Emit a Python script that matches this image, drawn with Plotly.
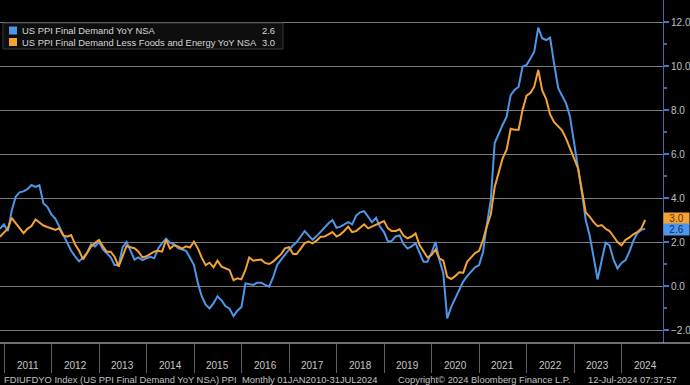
import pandas as pd
import plotly.graph_objects as go

# Monthly readings, Nov 2010 .. Jun 2024 (one row per year)
blue = [
    2.6, 2.8,
    2.5, 3.4, 4.05, 4.26, 4.3, 4.4, 4.59, 4.5, 4.58, 3.75, 3.6, 3.25,
    3.05, 2.7, 2.32, 2.0, 1.6, 1.35, 1.12, 1.3, 1.5, 1.9, 1.8, 2.0,
    1.65, 1.5, 1.3, 0.95, 0.95, 1.75, 2.0, 1.6, 1.2, 1.3, 1.18, 1.26,
    1.33, 1.26, 1.7, 1.95, 2.15, 1.97, 1.9, 1.72, 1.67, 1.6, 1.3, 0.95,
    0.12, -0.45, -0.85, -1.02, -0.78, -0.47, -0.65, -0.92, -1.02, -1.37, -1.12, -0.95,
    0.12, 0.1, 0.05, 0.15, 0.15, 0.05, -0.03, 0.4, 0.95, 1.2, 1.45, 1.65,
    1.85, 2.0, 2.25, 2.5, 2.3, 2.1, 2.27, 2.48, 2.65, 2.85, 3.0, 2.65,
    2.7, 2.8, 2.9, 2.8, 3.2, 3.35, 3.4, 3.15, 2.9, 3.1, 2.7, 2.45,
    2.02, 2.05, 2.25, 2.3, 1.9, 1.7, 1.8, 1.94, 1.48, 1.1, 1.1, 1.5,
    2.0, 1.2, 0.58, -1.47, -0.95, -0.55, -0.22, 0.2, 0.45, 0.65, 0.85, 0.95,
    1.56, 2.77, 3.9, 6.5, 6.94, 7.32, 7.7, 8.68, 8.91, 9.06, 9.97, 10.05,
    10.35, 10.65, 11.74, 11.26, 11.18, 11.29, 10.1, 9.0, 8.65, 8.3, 7.7, 6.6,
    5.5, 4.3, 3.0, 2.3, 1.3, 0.3, 1.15, 1.97, 1.85, 1.2, 0.8, 1.05,
    1.18, 1.55, 2.05, 2.4, 2.55, 2.6,
]
orange = [
    2.24, 2.45,
    2.62, 3.1, 2.85, 2.6, 2.4, 2.6, 2.73, 3.02, 2.88, 2.75, 2.68, 2.6,
    2.55, 2.62, 2.3, 2.24, 2.32, 1.9, 1.6, 1.21, 1.48, 1.8, 1.95, 2.09,
    1.79, 1.56, 1.56, 1.33, 0.88, 1.3, 1.82, 1.76, 1.72, 1.56, 1.3, 1.35,
    1.45, 1.56, 1.6, 1.56, 2.1, 1.7, 1.85, 1.8, 1.7, 1.8, 1.75, 2.02,
    1.7, 1.3, 0.95, 1.06, 0.85, 1.15, 0.88, 0.8, 0.73, 0.27, 0.35, 0.3,
    0.73, 1.3, 1.15, 1.18, 1.2, 1.05, 1.0, 1.11, 1.3, 1.45, 1.71, 1.76,
    1.45, 1.45, 1.7, 1.95, 2.02, 1.94, 2.06, 2.24, 2.25, 2.35, 2.45, 2.25,
    2.35, 2.5, 2.7, 2.45, 2.5, 2.65, 2.8, 2.62, 2.7, 2.78, 2.85, 2.95,
    2.62, 2.5, 2.5, 2.58, 2.28, 2.17, 2.25, 2.39, 1.86, 1.55, 1.3, 1.41,
    1.65, 1.26, 1.15, 0.42, 0.32, 0.45, 0.62, 0.6, 1.1, 1.3, 1.5, 1.6,
    2.1, 2.7, 3.25, 4.5, 5.2, 5.8, 6.2, 7.15, 7.1, 7.1, 8.0, 8.65,
    8.78, 9.06, 9.82, 8.9, 8.5, 7.8, 7.45, 7.24, 7.08, 6.7, 6.25, 5.8,
    5.35, 4.4, 3.35, 3.15, 2.9, 2.72, 2.77, 2.6, 2.5, 2.25, 2.0, 1.85,
    2.1, 2.2, 2.35, 2.45, 2.62, 3.0,
]
dates = pd.date_range("2010-11-30", periods=len(blue), freq="ME")
years = list(range(2011, 2025))
yticks = [-2, 0, 2, 4, 6, 8, 10, 12]
name_blue = "US PPI Final Demand YoY NSA"
name_orange = "US PPI Final Demand Less Foods and Energy YoY NSA"
footer_left = "FDIUFDYO Index (US PPI Final Demand YoY NSA) PPI  Monthly 01JAN2010-31JUL2024"
footer_mid = "Copyright\u00a9 2024 Bloomberg Finance L.P."
footer_right = "12-Jul-2024 07:37:57"

BLUE = "#4d97ea"
ORANGE = "#f4a233"
FONT = "Liberation Sans, Arial, sans-serif"
W, H = 690, 385
ML, MR, MT, MB = 0, 27, 0, 42
PW, PH = W - ML - MR, H - MT - MB

def px(x):
    return (x - ML) / PW

def py(y):
    return (H - MB - y) / PH

fig = go.Figure()
fig.add_trace(go.Scatter(x=dates, y=blue, mode="lines", line=dict(color=BLUE, width=2), name=name_blue))
fig.add_trace(go.Scatter(x=dates, y=orange, mode="lines", line=dict(color=ORANGE, width=2), name=name_orange))

fig.update_layout(
    width=W, height=H,
    margin=dict(l=ML, r=MR, t=MT, b=MB, autoexpand=False),
    paper_bgcolor="black", plot_bgcolor="black",
    showlegend=False,
    font=dict(family=FONT, size=10, color="#c8c8c8"),
)
fig.update_xaxes(
    type="date", range=["2010-12-01", "2024-11-14"],
    showgrid=False, zeroline=False, showline=False,
    tickvals=[f"{y}-01-01" for y in years], ticks="outside", ticklen=29,
    tickcolor="#5e5e5e", tickwidth=1, showticklabels=False,
)
fig.update_yaxes(
    side="right", range=[-2.59, 13.0],
    tickvals=yticks, tickformat=".1f",
    showgrid=True, gridcolor="#7c7c7c", gridwidth=1, zeroline=False,
    showline=True, linecolor="#4666a8", linewidth=1,
    ticks="outside", ticklen=5, tickwidth=2, tickcolor="#4f74c0",
    minor=dict(tickvals=[v + 1 for v in yticks[:-1]], ticks="outside", ticklen=3,
               tickcolor="#4666a8", showgrid=False),
    tickfont=dict(size=10, color="#c0c0c0"),
)

shapes = [
    dict(type="line", xref="paper", yref="paper", x0=0, x1=W / PW, y0=0, y1=0,
         line=dict(color="#dcdcdc", width=1)),
    dict(type="rect", xref="paper", yref="paper", x0=px(3), x1=px(283), y0=py(49), y1=py(23),
         fillcolor="#0e0e0e", line=dict(color="#3a3a3a", width=1)),
    dict(type="rect", xref="paper", yref="paper", x0=px(9), x1=px(17), y0=py(34.5), y1=py(26.5),
         fillcolor=BLUE, line=dict(width=0)),
    dict(type="rect", xref="paper", yref="paper", x0=px(9), x1=px(17), y0=py(46), y1=py(38),
         fillcolor=ORANGE, line=dict(width=0)),
]
fig.update_layout(shapes=shapes)

ann = []
lf = dict(size=9.4, color="#d6d6d6")
ann.append(dict(xref="paper", yref="paper", x=px(20), y=py(30.5), text=name_blue,
                xanchor="left", yanchor="middle", showarrow=False, font=lf))
ann.append(dict(xref="paper", yref="paper", x=px(20), y=py(42), text=name_orange,
                xanchor="left", yanchor="middle", showarrow=False, font=lf))
ann.append(dict(xref="paper", yref="paper", x=px(277), y=py(30.5), text=f"{blue[-1]:.1f}",
                xanchor="right", yanchor="middle", showarrow=False, font=lf))
ann.append(dict(xref="paper", yref="paper", x=px(277), y=py(42), text=f"{orange[-1]:.1f}",
                xanchor="right", yanchor="middle", showarrow=False, font=lf))
# last-value tags on the right axis
ann.append(dict(xref="paper", yref="y", x=1.0, y=orange[-1], yshift=2, text=f"{orange[-1]:.1f}",
                xanchor="left", yanchor="middle", showarrow=False, bgcolor=ORANGE, borderpad=0,
                width=25, align="center", font=dict(size=10, color="#5a3300")))
ann.append(dict(xref="paper", yref="y", x=1.0, y=blue[-1], yshift=-1, text=f"{blue[-1]:.1f}",
                xanchor="left", yanchor="middle", showarrow=False, bgcolor=BLUE, borderpad=0,
                width=25, align="center", font=dict(size=10, color="#0c2d63")))
for y in years:
    ann.append(dict(xref="x", yref="paper", x=f"{y}-07-01", y=py(365), text=str(y),
                    xanchor="center", yanchor="middle", showarrow=False,
                    font=dict(size=10, color="#c8c8c8")))
ff = dict(size=9.4, color="#c0c0c0")
ann.append(dict(xref="paper", yref="paper", x=px(2), y=py(379), text=footer_left,
                xanchor="left", yanchor="middle", showarrow=False, font=ff))
ann.append(dict(xref="paper", yref="paper", x=px(396), y=py(379), text=footer_mid,
                xanchor="left", yanchor="middle", showarrow=False, font=ff))
ann.append(dict(xref="paper", yref="paper", x=px(586), y=py(379), text=footer_right,
                xanchor="left", yanchor="middle", showarrow=False, font=ff))
fig.update_layout(annotations=ann)

fig.write_html("out.html", config={"displayModeBar": False},
               post_script="document.body.style.margin='0';document.body.style.overflow='hidden';")
